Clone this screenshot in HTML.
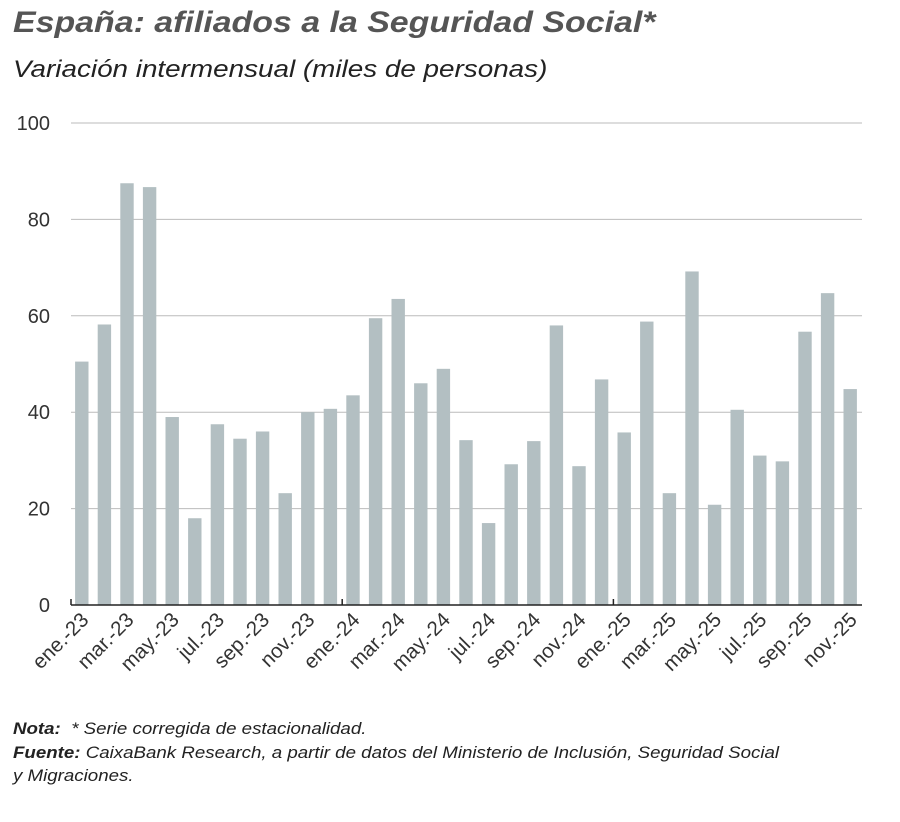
<!DOCTYPE html>
<html><head><meta charset="utf-8"><style>
body{margin:0;background:#fff;width:900px;height:822px;overflow:hidden;font-family:"Liberation Sans",sans-serif;}
.t{position:absolute;left:13px;top:6px;font-size:30px;font-weight:bold;font-style:italic;color:#555;transform-origin:0 0;transform:scaleX(1.13);white-space:nowrap;}
.s{position:absolute;left:13px;top:56px;font-size:24px;font-style:italic;color:#222;transform-origin:0 0;transform:scaleX(1.16);white-space:nowrap;}
.n{position:absolute;left:13px;font-size:17px;font-style:italic;color:#222;transform-origin:0 0;transform:scaleX(1.1);white-space:nowrap;line-height:23px;}
</style></head><body>
<div class="t">España: afiliados a la Seguridad Social*</div>
<div class="s">Variación intermensual (miles de personas)</div>
<svg id="c" width="900" height="822" style="position:absolute;left:0;top:0"></svg>
<div class="n" style="top:717px"><b>Nota:</b>&nbsp; * Serie corregida de estacionalidad.</div>
<div class="n" style="top:741px"><b>Fuente:</b> CaixaBank Research, a partir de datos del Ministerio de Inclusión, Seguridad Social<br>y Migraciones.</div>
<script>
const months=["ene.","feb.","mar.","abr.","may.","jun.","jul.","ago.","sep.","oct.","nov.","dic."];
const years=["23","24","25"];
const values=[50.5,58.2,87.5,86.7,39,18,37.5,34.5,36,23.2,40,40.7,43.5,59.5,63.5,46,49,34.2,17,29.2,34,58,28.8,46.8,35.8,58.8,23.2,69.2,20.8,40.5,31,29.8,56.7,64.7,44.8];
const yTicks=[0,20,40,60,80,100];
const svg=document.getElementById('c');const NS="http://www.w3.org/2000/svg";
const x0=71,x1=862,y0=605,y100=123;
const y=v=>y0-(y0-y100)*v/100;
const pitch=(x1-x0)/values.length;
const xc=i=>x0+pitch*(i+0.5)-0.5;
function mk(t,a){const e=document.createElementNS(NS,t);for(const k in a)e.setAttribute(k,a[k]);svg.appendChild(e);return e;}
yTicks.forEach(v=>{
 if(v>0){const g=mk('line',{x1:x0,x2:x1,y1:y(v),y2:y(v),stroke:'#bbb','stroke-width':1});
 }
 const t=mk('text',{x:50,y:y(v)+7,'text-anchor':'end','font-size':20,fill:'#333','font-family':'Liberation Sans'});
 t.textContent=v;
});
values.forEach((v,i)=>{
 const b=mk('rect',{x:xc(i)-6.7,y:y(v),width:13.4,height:y0-y(v),fill:'#b3bfc2'});
 
 if(i%2==0){const lab=months[i%12]+"-"+years[Math.floor(i/12)];
  const t=mk('text',{x:0,y:0,'text-anchor':'end','font-size':20.5,fill:'#333','font-family':'Liberation Sans',transform:`translate(${xc(i)+8},${y0+16}) rotate(-45)`});
  t.textContent=lab;}
});
const ax=mk('line',{x1:x0,x2:x1,y1:y0,y2:y0,stroke:'#222','stroke-width':1.5});

[0,12,24].forEach(i=>{const xx=x0+pitch*i;const tk=mk('line',{x1:xx,x2:xx,y1:y0,y2:y0-6,stroke:'#222','stroke-width':1.5});
 });
</script>
</body></html>
